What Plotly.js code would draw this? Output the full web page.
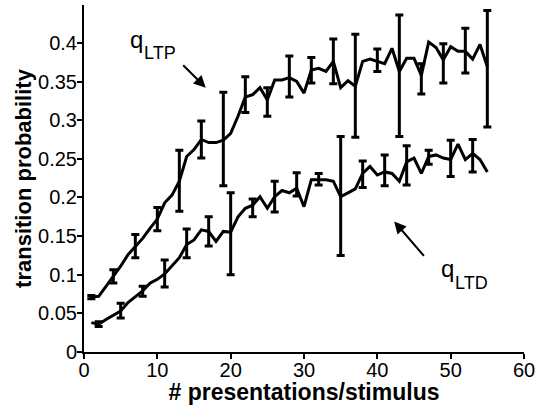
<!DOCTYPE html>
<html>
<head>
<meta charset="utf-8">
<script src="https://cdn.plot.ly/plotly-3.0.1.min.js"></script>
<style>html,body{margin:0;padding:0;background:#fff;}#chart{width:537px;height:405px;}</style>
</head>
<body>
<div id="chart"></div>
<script>
// presentations per stimulus
const xVals = [1,2,3,4,5,6,7,8,9,10,11,12,13,14,15,16,17,18,19,20,21,22,23,24,25,26,27,28,29,30,31,32,33,34,35,36,37,38,39,40,41,42,43,44,45,46,47,48,49,50,51,52,53,54,55];
// q_LTP transition probability
const qLTP = [0.071,0.072,0.085,0.098,0.111,0.126,0.137,0.147,0.160,0.172,0.193,0.203,0.221,0.253,0.262,0.275,0.271,0.271,0.274,0.283,0.305,0.330,0.333,0.342,0.326,0.352,0.352,0.355,0.350,0.335,0.365,0.367,0.363,0.376,0.342,0.351,0.344,0.376,0.379,0.376,0.373,0.393,0.363,0.380,0.380,0.358,0.401,0.394,0.378,0.395,0.389,0.389,0.379,0.398,0.369];
// q_LTD transition probability
const qLTD = [0.038,0.036,0.042,0.048,0.053,0.064,0.072,0.079,0.089,0.094,0.101,0.111,0.122,0.139,0.145,0.158,0.156,0.143,0.156,0.155,0.175,0.186,0.190,0.201,0.186,0.201,0.209,0.206,0.212,0.188,0.223,0.223,0.223,0.221,0.201,0.206,0.211,0.231,0.240,0.229,0.233,0.231,0.221,0.246,0.251,0.231,0.253,0.255,0.251,0.249,0.269,0.249,0.257,0.249,0.233];
// error bar positions and sizes
const ltpBarX = [1,4,7,10,13,16,19,22,25,28,31,34,37,40,43,46,49,52,55];
const ltpErrPlus  = [0.002,0.0085,0.015,0.015,0.040,0.024,0.062,0.026,0.016,0.028,0.016,0.029,0.067,0.016,0.073,0.015,0.021,0.030,0.073];
const ltpErrMinus = [0.002,0.0086,0.015,0.015,0.039,0.024,0.059,0.020,0.021,0.025,0.017,0.029,0.066,0.013,0.084,0.024,0.030,0.028,0.078];
const ltdBarX = [2,5,8,11,14,17,20,23,26,29,32,35,38,41,44,47,50,53];
const ltdErrPlus  = [0.003,0.010,0.006,0.018,0.020,0.019,0.051,0.008,0.020,0.020,0.008,0.078,0.016,0.022,0.021,0.008,0.025,0.018];
const ltdErrMinus = [0.003,0.009,0.007,0.017,0.017,0.019,0.055,0.015,0.020,0.010,0.007,0.076,0.018,0.018,0.030,0.010,0.022,0.024];
// axis ticks
const yTicks = [0,0.05,0.1,0.15,0.2,0.25,0.3,0.35,0.4];
const yTickText = ['0','0.05','0.1','0.15','0.2','0.25','0.3','0.35','0.4'];
const xTicks = [0,10,20,30,40,50,60];

const pick = (xs, ys, bx) => bx.map(v => ys[xs.indexOf(v)]);
const FONT = 'Arial, "Liberation Sans", sans-serif';

const lineStyle = {color:'#000', width:3};
const traces = [
  {x:xVals, y:qLTP, mode:'lines', line:lineStyle, hoverinfo:'skip'},
  {x:xVals, y:qLTD, mode:'lines', line:lineStyle, hoverinfo:'skip'},
  {x:ltpBarX, y:pick(xVals,qLTP,ltpBarX), mode:'markers', marker:{size:1,color:'#000'},
   error_y:{type:'data', symmetric:false, array:ltpErrPlus, arrayminus:ltpErrMinus, color:'#000', thickness:3, width:4}},
  {x:ltdBarX, y:pick(xVals,qLTD,ltdBarX), mode:'markers', marker:{size:1,color:'#000'},
   error_y:{type:'data', symmetric:false, array:ltdErrPlus, arrayminus:ltdErrMinus, color:'#000', thickness:3, width:4}}
];

const layout = {
  width:537, height:405,
  margin:{l:84, r:13, t:5, b:53},
  paper_bgcolor:'#fff', plot_bgcolor:'#fff',
  showlegend:false,
  font:{family:FONT, color:'#000', size:20},
  xaxis:{range:[0,60], tickvals:xTicks, ticks:'outside', ticklen:5, tickwidth:2, tickcolor:'#000',
         showline:true, linewidth:2, linecolor:'#000', showgrid:false, zeroline:false,
         tickfont:{size:20}, automargin:false, ticklabelstandoff:-6,
         title:{text:'<b># presentations/stimulus</b>', font:{size:23}, standoff:0}},
  yaxis:{range:[0,0.449], tickvals:yTicks, ticktext:yTickText, ticks:'outside', ticklen:5, tickwidth:2, tickcolor:'#000',
         showline:true, linewidth:2, linecolor:'#000', showgrid:false, zeroline:false,
         tickfont:{size:20}, automargin:false, ticklabelstandoff:-4,
         title:{text:'<b>transition probability</b>', font:{size:22}, standoff:0}},
  annotations:[
    {x:7.2, y:0.404, xref:'x', yref:'y', text:'q', showarrow:false, font:{size:24}},
    {x:10.4, y:0.387, xref:'x', yref:'y', text:'LTP', showarrow:false, font:{size:18}},
    {x:16.6, y:0.342, xref:'x', yref:'y', ax:-24, ay:-24, text:'', showarrow:true, arrowhead:2, arrowsize:1.2, arrowwidth:2, arrowcolor:'#000'},
    {x:49.6, y:0.108, xref:'x', yref:'y', text:'q', showarrow:false, font:{size:24}},
    {x:52.8, y:0.089, xref:'x', yref:'y', text:'LTD', showarrow:false, font:{size:18}},
    {x:42.3, y:0.169, xref:'x', yref:'y', ax:31, ay:36, text:'', showarrow:true, arrowhead:2, arrowsize:1.2, arrowwidth:2, arrowcolor:'#000'}
  ]
};

Plotly.newPlot('chart', traces, layout, {staticPlot:true, displayModeBar:false});
</script>
</body>
</html>
